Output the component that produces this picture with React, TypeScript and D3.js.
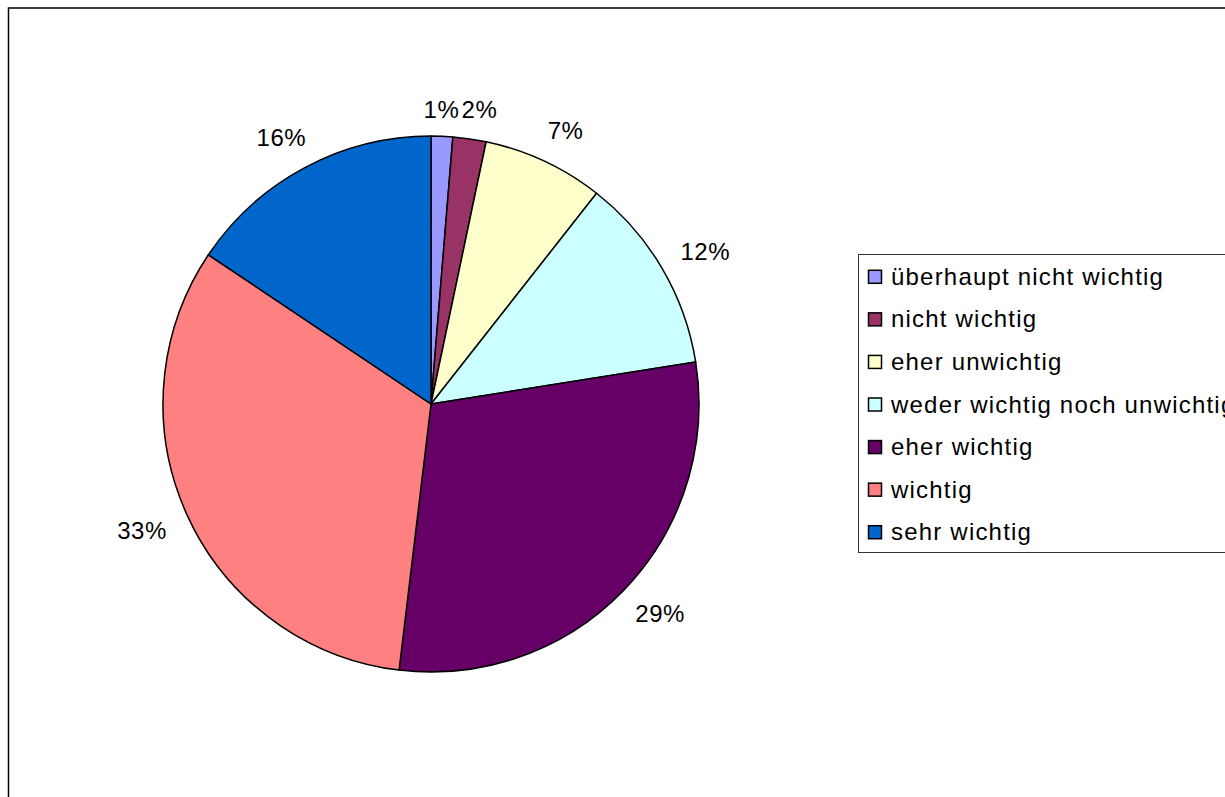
import React from 'react';
import * as d3 from 'd3';

const categories = [
  'überhaupt nicht wichtig',
  'nicht wichtig',
  'eher unwichtig',
  'weder wichtig noch unwichtig',
  'eher wichtig',
  'wichtig',
  'sehr wichtig',
];
const values = [1.3, 2.0, 7.3, 11.9, 29.4, 32.5, 15.6];
const colors = ['#9999FF', '#993366', '#FFFFCC', '#CCFFFF', '#660066', '#FF8080', '#0066CC'];

const W = 1225;
const H = 797;
const cx = 431;
const cy = 404;
const radius = 268;
const labelRx = 318;
const labelRy = 302;
const font = '"Liberation Sans", Arial, sans-serif';

export default function App() {
  const total = d3.sum(values);
  const pie = d3.pie<number>().sort(null).value(d => d);
  const arcs = pie(values);
  const arc = d3.arc<d3.PieArcDatum<number>>().innerRadius(0).outerRadius(radius);

  // label positions on an ellipse around the pie, then push apart overlapping neighbours
  const labels = arcs.map((d, i) => {
    const a = (d.startAngle + d.endAngle) / 2;
    const text = `${Math.round((values[i] / total) * 100)}%`;
    return {
      text,
      x: labelRx * Math.sin(a),
      y: -labelRy * Math.cos(a),
      w: text.length * 13 + 8,
    };
  });
  for (let i = 1; i < labels.length; i++) {
    const p = labels[i - 1];
    const q = labels[i];
    const need = (p.w + q.w) / 2 + 4;
    if (Math.abs(q.y - p.y) < 20 && Math.abs(q.x - p.x) < need) {
      const shift = (need - Math.abs(q.x - p.x)) / 2;
      const dir = q.x >= p.x ? 1 : -1;
      p.x -= shift * dir;
      q.x += shift * dir;
      const my = Math.max(p.y, q.y);
      p.y = my + 4;
      q.y = my + 4;
    }
  }

  const legendY = d3.scaleBand<string>()
    .domain(categories)
    .range([255, 553]);

  return (
    <svg
      width={W}
      height={H}
      style={{ position: 'fixed', left: 0, top: 0, display: 'block', background: '#fff' }}
    >
      {/* outer chart border (extends past the window) */}
      <rect x={8.5} y={8} width={W + 50} height={H + 50} fill="#fff" stroke="#000" strokeWidth={1.5} />

      <g transform={`translate(${cx},${cy})`}>
        {arcs.map((d, i) => (
          <path key={i} d={arc(d) || ''} fill={colors[i]} stroke="#000" strokeWidth={1.5} strokeLinejoin="round" />
        ))}
        {labels.map((l, i) => (
          <text
            key={'l' + i}
            x={l.x}
            y={l.y}
            textAnchor="middle"
            dominantBaseline="central"
            fontFamily={font}
            fontSize={24}
            letterSpacing={0.5}
            fill="#000"
          >
            {l.text}
          </text>
        ))}
      </g>

      {/* legend */}
      <rect x={858.5} y={254.5} width={420} height={298} fill="#fff" stroke="#333" strokeWidth={1} />
      {categories.map((c, i) => {
        const yc = (legendY(c) || 0) + legendY.bandwidth() / 2;
        return (
          <g key={c}>
            <rect x={868.5} y={yc - 6} width={13} height={13} fill={colors[i]} stroke="#000" strokeWidth={1.5} />
            <text
              x={891}
              y={yc}
              dominantBaseline="central"
              fontFamily={font}
              fontSize={24}
              letterSpacing={1.2}
              fill="#000"
            >
              {c}
            </text>
          </g>
        );
      })}
    </svg>
  );
}
